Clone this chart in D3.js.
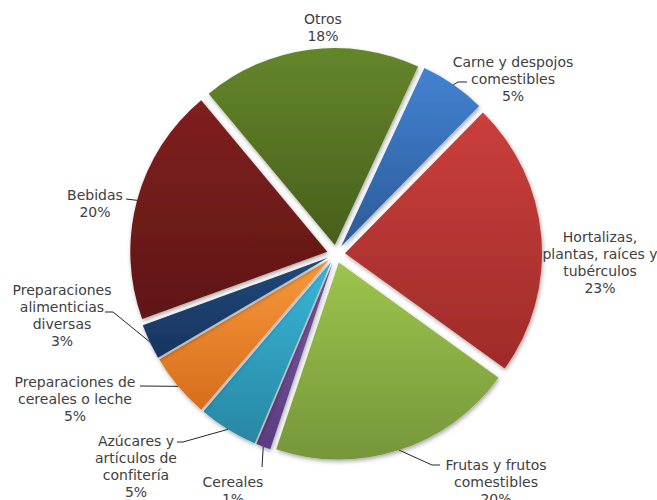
<!DOCTYPE html>
<html lang="es">

<head>
  <meta charset="utf-8">
  <title>Pastel de categorías</title>
  <script type="text/javascript" src="https://cdn.jsdelivr.net/npm/d3@7"></script>
  <style type="text/css">
    body { margin: 0; background: #fff; }
    text { font-family: "DejaVu Sans", sans-serif; font-size: 14px; fill: #404040; }
  </style>
</head>

<body>
  <script type="text/javascript">
    // Datos
    const categories = [
      ["Carne y despojos", "comestibles"],
      ["Hortalizas,", "plantas, raíces y", "tubérculos"],
      ["Frutas y frutos", "comestibles"],
      ["Cereales"],
      ["Azúcares y", "artículos de", "confitería"],
      ["Preparaciones de", "cereales o leche"],
      ["Preparaciones", "alimenticias", "diversas"],
      ["Bebidas"],
      ["Otros"]
    ];
    const shares = [5.4, 22.6, 20.2, 1.2, 4.9, 5.3, 2.9, 19.5, 18.0];
    const colorsTop = ["#4382d2", "#cb3f3c", "#9dc44c", "#7b58a4", "#38b6d8", "#f9983a", "#21497a", "#80201f", "#64862b"];
    const colorsBottom = ["#2b5b98", "#9e2b29", "#76963a", "#5b3d80", "#2887a3", "#d66d1c", "#173560", "#5f1614", "#485f1b"];

    // Posición de etiquetas (centro de la primera línea) y quiebres de las líneas guía
    const labelPos = [[513, 62], [600, 237], [496, 465], [233, 482], [136, 441], [75, 382], [62, 290], [95, 195], [323, 19]];
    const leaderPts = [
      [[458, 82], [467, 82]],
      null,
      [[432, 465], [440, 465]],
      [[262, 467]],
      [[183, 442], [177, 442]],
      [[140, 386]],
      [[113, 312], [105, 312]],
      [[126, 199]],
      null
    ];

    const w = 657;
    const h = 500;
    const cx = 336, cy = 254;
    const r = 197;
    const explode = 9;
    const lineH = 17;

    const svg = d3.select("body")
      .append("svg")
      .attr("width", w)
      .attr("height", h);

    const defs = svg.append("defs");

    // sombra suave
    const shadow = defs.append("filter")
      .attr("id", "sombra")
      .attr("x", "-20%").attr("y", "-20%")
      .attr("width", "140%").attr("height", "140%");
    shadow.append("feDropShadow")
      .attr("dx", 1).attr("dy", 2)
      .attr("stdDeviation", 2)
      .attr("flood-color", "#000")
      .attr("flood-opacity", 0.35);

    shares.forEach(function (d, i) {
      const g = defs.append("linearGradient")
        .attr("id", "grad" + i)
        .attr("x1", 0).attr("y1", 0)
        .attr("x2", 0).attr("y2", 1);
      g.append("stop").attr("offset", "0%").attr("stop-color", colorsTop[i]);
      g.append("stop").attr("offset", "100%").attr("stop-color", colorsBottom[i]);
    });

    const start = 25 * Math.PI / 180;
    const pie = d3.pie()
      .sort(null)
      .startAngle(start)
      .endAngle(start + 2 * Math.PI);

    const arcs = pie(shares);

    const arc = d3.arc()
      .innerRadius(0)
      .outerRadius(r);

    // punto sobre el borde exterior
    const rimArc = d3.arc()
      .innerRadius(r)
      .outerRadius(r);

    function shift(d) {
      const a = (d.startAngle + d.endAngle) / 2;
      return [explode * Math.sin(a), -explode * Math.cos(a)];
    }

    const chart = svg.append("g")
      .attr("transform", "translate(" + cx + "," + cy + ")");

    chart.selectAll("path.slice")
      .data(arcs)
      .enter()
      .append("path")
      .attr("class", "slice")
      .attr("d", arc)
      .attr("transform", function (d) {
        const s = shift(d);
        return "translate(" + s[0] + "," + s[1] + ")";
      })
      .attr("fill", function (d, i) {
        return "url(#grad" + i + ")";
      })
      .attr("filter", "url(#sombra)");

    // líneas guía
    svg.selectAll("path.leader")
      .data(arcs.filter(function (d, i) { return leaderPts[i]; }))
      .enter()
      .append("path")
      .attr("class", "leader")
      .attr("fill", "none")
      .attr("stroke", "#262626")
      .attr("stroke-width", 1)
      .attr("d", function (d) {
        const s = shift(d);
        const c = rimArc.centroid(d);
        const pts = [[cx + c[0] + s[0], cy + c[1] + s[1]]].concat(leaderPts[d.index]);
        return d3.line()(pts);
      });

    // etiquetas
    const labels = svg.selectAll("text.label")
      .data(arcs)
      .enter()
      .append("text")
      .attr("class", "label")
      .attr("text-anchor", "middle")
      .attr("x", function (d, i) { return labelPos[i][0]; })
      .attr("y", function (d, i) { return labelPos[i][1] + 5; });

    labels.each(function (d, i) {
      const t = d3.select(this);
      const lines = categories[i].concat([Math.round(shares[i]) + "%"]);
      lines.forEach(function (l, j) {
        t.append("tspan")
          .attr("x", labelPos[i][0])
          .attr("dy", j === 0 ? 0 : lineH)
          .text(l);
      });
    });
  </script>
</body>

</html>
